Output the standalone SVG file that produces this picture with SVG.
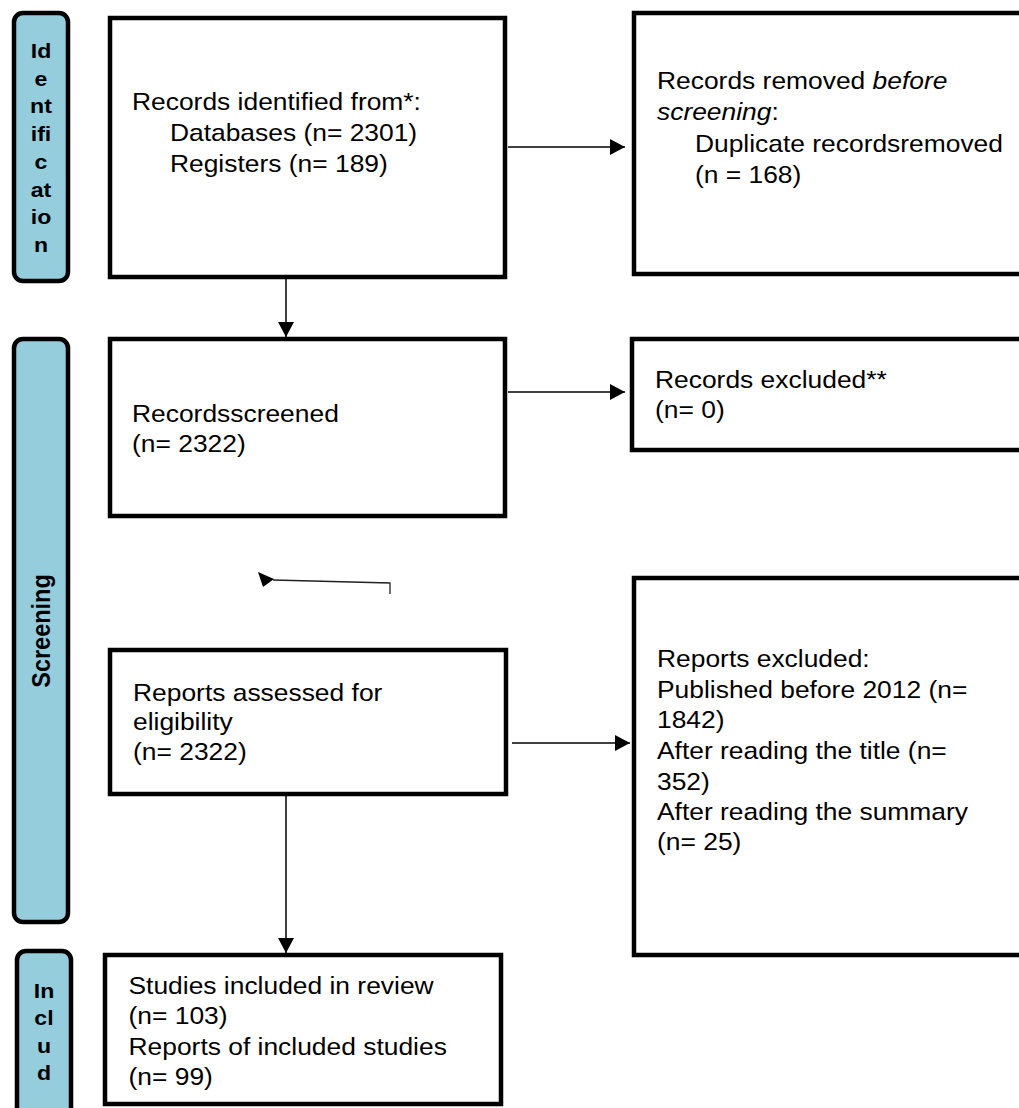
<svg xmlns="http://www.w3.org/2000/svg" width="1019" height="1108" viewBox="0 0 1019 1108">
<style>
.box{fill:#ffffff;stroke:#000000;stroke-width:4.5}
.lab{fill:#95CDDD;stroke:#000000;stroke-width:4.5}
.t{font-family:"Liberation Sans",Arial,sans-serif;font-size:24px;fill:#000}
.lt{font-family:"Liberation Sans",Arial,sans-serif;font-size:21px;font-weight:bold;fill:#000;text-anchor:middle}
.st{font-family:"Liberation Sans",Arial,sans-serif;font-size:23.5px;font-weight:bold;fill:#000;text-anchor:middle}
.c{fill:none;stroke:#000;stroke-width:1.5}
</style>
<defs>
<marker id="ah" markerUnits="userSpaceOnUse" markerWidth="16" markerHeight="16" refX="15" refY="8" orient="auto">
<path d="M0,0 L15,8 L0,16 Z" fill="#000"/>
</marker>
</defs>
<rect width="1019" height="1108" fill="#ffffff"/>

<g id="label-identification">
<rect class="lab" x="14" y="13" width="54" height="268" rx="9"/>
<text class="lt" transform="translate(41,0) scale(1.1,1)">
<tspan x="0" y="58">Id</tspan><tspan x="0" y="86">e</tspan><tspan x="0" y="113">nt</tspan><tspan x="0" y="141">ifi</tspan><tspan x="0" y="169">c</tspan><tspan x="0" y="197">at</tspan><tspan x="0" y="224">io</tspan><tspan x="0" y="252">n</tspan>
</text>
</g>

<g id="label-screening">
<rect class="lab" x="14" y="339" width="54" height="583" rx="9"/>
<text class="st" transform="translate(50,631) scale(1.1,1) rotate(-90)" x="0" y="0">Screening</text>
</g>

<g id="label-included">
<rect class="lab" x="17" y="951" width="54" height="175" rx="9"/>
<text class="lt" transform="translate(44,0) scale(1.1,1)">
<tspan x="0" y="998">In</tspan><tspan x="0" y="1025">cl</tspan><tspan x="0" y="1053">u</tspan><tspan x="0" y="1080">d</tspan>
</text>
</g>

<g id="records-identified">
<rect class="box" x="110" y="18" width="395" height="259"/>
<text class="t" transform="translate(132,0) scale(1.1,1)">
<tspan x="0" y="110">Records identified from*:</tspan>
<tspan x="34.5" y="141">Databases (n= 2301)</tspan>
<tspan x="34.5" y="172">Registers (n= 189)</tspan>
</text>
</g>

<g id="records-removed">
<rect class="box" x="634" y="13" width="400" height="261"/>
<text class="t" transform="translate(657,0) scale(1.1,1)">
<tspan x="0" y="89">Records removed <tspan font-style="italic">before</tspan></tspan>
<tspan x="0" y="120"><tspan font-style="italic">screening</tspan>:</tspan>
<tspan x="34.5" y="152">Duplicate recordsremoved</tspan>
<tspan x="34.5" y="183">(n = 168)</tspan>
</text>
</g>

<g id="records-screened">
<rect class="box" x="110" y="339" width="395" height="177"/>
<text class="t" transform="translate(132,0) scale(1.1,1)">
<tspan x="0" y="422">Recordsscreened</tspan>
<tspan x="0" y="452">(n= 2322)</tspan>
</text>
</g>

<g id="records-excluded">
<rect class="box" x="632" y="339" width="400" height="111"/>
<text class="t" transform="translate(655,0) scale(1.1,1)">
<tspan x="0" y="388">Records excluded**</tspan>
<tspan x="0" y="418">(n= 0)</tspan>
</text>
</g>

<g id="reports-assessed">
<rect class="box" x="110" y="650" width="396" height="144"/>
<text class="t" transform="translate(133,0) scale(1.1,1)">
<tspan x="0" y="701">Reports assessed for</tspan>
<tspan x="0" y="730">eligibility</tspan>
<tspan x="0" y="760">(n= 2322)</tspan>
</text>
</g>

<g id="reports-excluded">
<rect class="box" x="634" y="578" width="400" height="377"/>
<text class="t" transform="translate(657,0) scale(1.1,1)">
<tspan x="0" y="667">Reports excluded:</tspan>
<tspan x="0" y="698">Published before 2012 (n=</tspan>
<tspan x="0" y="728">1842)</tspan>
<tspan x="0" y="759">After reading the title (n=</tspan>
<tspan x="0" y="790">352)</tspan>
<tspan x="0" y="820">After reading the summary</tspan>
<tspan x="0" y="850">(n= 25)</tspan>
</text>
</g>

<g id="studies-included">
<rect class="box" x="105" y="955" width="396" height="149"/>
<text class="t" transform="translate(128.5,0) scale(1.1,1)">
<tspan x="0" y="994">Studies included in review</tspan>
<tspan x="0" y="1024">(n= 103)</tspan>
<tspan x="0" y="1055">Reports of included studies</tspan>
<tspan x="0" y="1085">(n= 99)</tspan>
</text>
</g>

<g id="connectors">
<line class="c" x1="508" y1="147" x2="625" y2="147" marker-end="url(#ah)"/>
<line class="c" x1="286" y1="279" x2="286" y2="337" marker-end="url(#ah)"/>
<line class="c" x1="508" y1="392" x2="625" y2="392" marker-end="url(#ah)"/>
<path d="M390,594 L390,583 L273,580" fill="none" stroke="#222" stroke-width="1.3"/>
<polygon points="258,572 263,587 274,579" fill="#000"/>
<line class="c" x1="512" y1="743" x2="630" y2="743" marker-end="url(#ah)"/>
<line class="c" x1="286" y1="796" x2="286" y2="953" marker-end="url(#ah)"/>
</g>
</svg>
